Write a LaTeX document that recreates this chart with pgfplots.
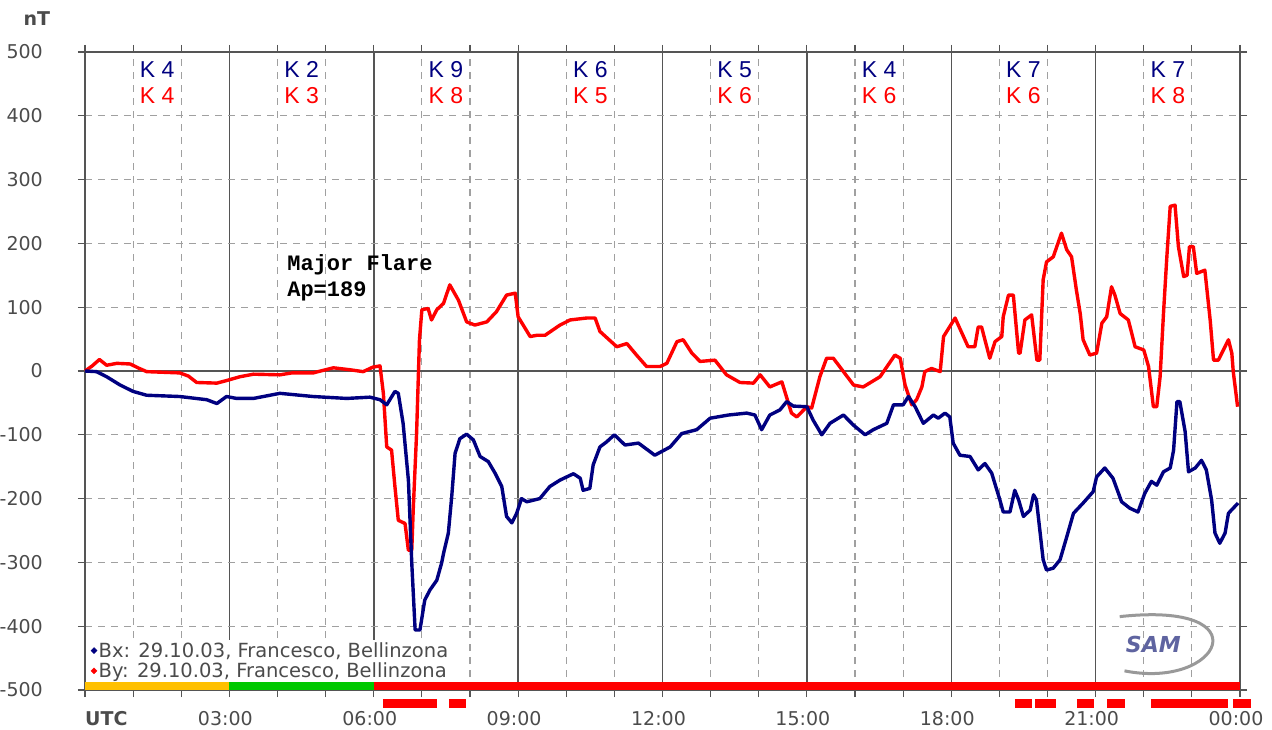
\documentclass[border=0pt]{standalone}
\usepackage{pgfplots}
\pgfplotsset{compat=1.18}
\usepackage{fontspec}
\setmainfont{DejaVu Sans}
\newfontfamily\monofont{Liberation Mono}
\newfontfamily\kfont{Liberation Sans}
\definecolor{navyc}{RGB}{0,0,128}
\definecolor{redc}{RGB}{255,0,0}
\definecolor{gridc}{RGB}{160,160,160}
\definecolor{axc}{RGB}{85,85,85}
\definecolor{txtc}{RGB}{75,75,75}
\definecolor{orangec}{RGB}{255,192,0}
\definecolor{greenc}{RGB}{0,200,0}
\definecolor{logoc}{RGB}{95,100,160}
\newcommand{\kpair}[3]{%
  \node[text=navyc, font=\kfont\fontsize{23}{26}\selectfont] at (axis cs:#1,472) {K\;#2};
  \node[text=redc, font=\kfont\fontsize{23}{26}\selectfont] at (axis cs:#1,431) {K\;#3};}
\begin{document}
\begin{tikzpicture}
\path[use as bounding box] (-85pt,-39pt) rectangle (1187pt,690pt);
\begin{axis}[
  at={(0pt,0pt)}, anchor=south west,
  scale only axis, width=1155pt, height=638pt,
  xmin=0, xmax=24, ymin=-500, ymax=500,
  clip=false,
  axis line style={axc, line width=1.5pt},
  xtick={0,3,...,24},
  xticklabels={,03:00,06:00,09:00,12:00,15:00,18:00,21:00,00:00},
  minor xtick={1,2,4,5,7,8,10,11,13,14,16,17,19,20,22,23},
  ytick={-500,-400,...,500},
  yticklabels={-500,-400,-300,-200,-100,0,100,200,300,400,500},
  grid=both,
  major x grid style={axc, line width=1.5pt},
  minor x grid style={gridc, line width=1.1pt, dash pattern=on 7pt off 6pt},
  major y grid style={gridc, line width=1.1pt, dash pattern=on 7pt off 6pt},
  tick style={axc, line width=1.2pt},
  tick align=outside, major tick length=7pt, minor tick length=7pt,
  ticklabel style={font=\fontsize{19}{22}\selectfont, text=txtc},
  xticklabel style={anchor=base, yshift=-28pt, xshift=-4pt},
  yticklabel style={anchor=east, inner sep=0pt, xshift=-35pt},
  legend style={at={(0.004,0.013)}, anchor=south west, draw=none, fill=white,
    font=\fontsize{19.5}{23}\selectfont, text=txtc, inner sep=1pt,
    row sep=1pt, nodes={inner sep=1.5pt}},
  legend cell align=left,
]
% zero line
\addplot[axc, line width=1.5pt, forget plot] coordinates {(0,0) (24,0)};
% status bar
\addplot[orangec, line width=8pt, forget plot] coordinates {(0,-493) (3,-493)};
\addplot[greenc, line width=8pt, forget plot] coordinates {(3,-493) (6,-493)};
\addplot[redc, line width=8pt, forget plot] coordinates {(6,-493) (24,-493)};
% red segments below axis
\addplot[redc, line width=9pt, forget plot] coordinates {(6.19,-521) (7.32,-521)};
\addplot[redc, line width=9pt, forget plot] coordinates {(7.56,-521) (7.91,-521)};
\addplot[redc, line width=9pt, forget plot] coordinates {(19.32,-521) (19.68,-521)};
\addplot[redc, line width=9pt, forget plot] coordinates {(19.74,-521) (20.18,-521)};
\addplot[redc, line width=9pt, forget plot] coordinates {(20.61,-521) (20.97,-521)};
\addplot[redc, line width=9pt, forget plot] coordinates {(21.24,-521) (21.60,-521)};
\addplot[redc, line width=9pt, forget plot] coordinates {(22.15,-521) (23.76,-521)};
\addplot[redc, line width=9pt, forget plot] coordinates {(23.86,-521) (24.22,-521)};
% By (red)
\addplot[redc, line width=3.4pt, line join=round, forget plot] coordinates {
(0,0) (0.15,8) (0.3,18) (0.45,9) (0.66,12) (0.94,11) (1.1,5) (1.28,-1) (1.97,-3)
(2.15,-8) (2.32,-18) (2.74,-19) (2.94,-15) (3.22,-9) (3.5,-5) (4.05,-6) (4.3,-3)
(4.74,-3) (5.16,5) (5.5,2) (5.78,-1) (5.98,6) (6.13,8) (6.2,-35) (6.27,-119)
(6.37,-124) (6.44,-181) (6.51,-234) (6.65,-239) (6.72,-281) (6.79,-281) (6.82,-218)
(6.89,-98) (6.95,49) (7.0,96) (7.13,98) (7.2,80) (7.31,96) (7.45,106) (7.58,135)
(7.76,111) (7.93,77) (8.1,72) (8.35,77) (8.55,93) (8.76,119) (8.94,122) (9.0,85)
(9.25,54) (9.39,56) (9.56,56) (9.87,72) (10.08,80) (10.42,83) (10.6,83) (10.7,62)
(11.05,38) (11.26,43) (11.46,25) (11.67,7) (11.95,7) (12.09,12) (12.3,46) (12.43,49)
(12.61,28) (12.78,15) (13.09,17) (13.33,-6) (13.61,-18) (13.89,-19) (14.03,-6)
(14.23,-25) (14.48,-17) (14.68,-66) (14.79,-72) (15.0,-56) (15.1,-58) (15.27,-9)
(15.41,20) (15.55,20) (15.97,-22) (16.17,-25) (16.52,-9) (16.83,25) (16.94,20)
(17.04,-22) (17.18,-53) (17.28,-45) (17.39,-25) (17.45,-1) (17.59,4) (17.77,-1)
(17.84,54) (18.08,83) (18.35,38) (18.49,38) (18.56,69) (18.63,69) (18.8,20)
(18.91,46) (19.05,54) (19.08,85) (19.19,119) (19.29,119) (19.4,28) (19.43,28)
(19.53,80) (19.67,88) (19.78,17) (19.84,17) (19.91,143) (19.98,171) (20.12,179)
(20.29,216) (20.4,190) (20.5,179) (20.6,127) (20.68,90) (20.74,49) (20.88,25)
(21.02,28) (21.13,75) (21.23,85) (21.33,132) (21.4,119) (21.51,90) (21.68,80)
(21.82,38) (22.0,33) (22.1,7) (22.2,-56) (22.27,-56) (22.34,-9) (22.41,90)
(22.48,179) (22.55,258) (22.65,260) (22.72,195) (22.83,148) (22.9,150) (22.95,195)
(23.03,195) (23.1,153) (23.27,158) (23.38,80) (23.45,17) (23.55,17) (23.76,49)
(23.83,28) (23.86,-1) (23.95,-56)};
% Bx (blue)
\addplot[navyc, line width=3.4pt, line join=round, forget plot] coordinates {
(0,0) (0.24,-1) (0.45,-9) (0.73,-22) (1.0,-32) (1.28,-38) (1.97,-40) (2.53,-45)
(2.74,-51) (2.94,-40) (3.15,-43) (3.5,-43) (4.05,-35) (4.74,-40) (5.44,-43)
(5.92,-41) (6.13,-45) (6.27,-53) (6.44,-32) (6.51,-35) (6.61,-82) (6.72,-171)
(6.79,-301) (6.86,-406) (6.96,-406) (7.06,-359) (7.17,-343) (7.31,-328) (7.41,-301)
(7.45,-286) (7.55,-254) (7.62,-197) (7.69,-129) (7.79,-106) (7.93,-99) (8.07,-108)
(8.21,-134) (8.38,-142) (8.52,-160) (8.66,-181) (8.76,-228) (8.87,-238) (8.97,-223)
(9.07,-200) (9.18,-205) (9.45,-200) (9.66,-181) (9.87,-171) (10.15,-161) (10.29,-168)
(10.35,-187) (10.49,-184) (10.56,-147) (10.7,-119) (10.84,-111) (11.0,-100)
(11.22,-116) (11.5,-113) (11.84,-132) (12.16,-119) (12.4,-98) (12.71,-92) (12.99,-74)
(13.37,-69) (13.75,-66) (13.92,-69) (14.06,-92) (14.23,-69) (14.44,-61) (14.58,-48)
(14.72,-55) (15.0,-56) (15.13,-77) (15.31,-100) (15.48,-82) (15.76,-69) (15.97,-85)
(16.21,-100) (16.38,-92) (16.66,-82) (16.8,-53) (17.0,-53) (17.11,-40) (17.25,-56)
(17.42,-82) (17.63,-69) (17.73,-74) (17.87,-66) (17.97,-72) (18.04,-113) (18.18,-132)
(18.39,-134) (18.56,-155) (18.7,-145) (18.84,-160) (19.01,-202) (19.08,-221)
(19.22,-221) (19.32,-187) (19.4,-202) (19.5,-228) (19.64,-218) (19.71,-194)
(19.77,-202) (19.84,-249) (19.91,-296) (19.98,-312) (20.12,-309) (20.26,-296)
(20.4,-260) (20.54,-223) (20.74,-207) (20.95,-189) (21.02,-166) (21.19,-152)
(21.36,-168) (21.54,-205) (21.71,-215) (21.88,-221) (22.02,-192) (22.16,-173)
(22.27,-179) (22.41,-158) (22.55,-152) (22.62,-124) (22.69,-48) (22.75,-48)
(22.86,-95) (22.93,-158) (23.07,-152) (23.2,-140) (23.3,-155) (23.41,-202)
(23.48,-254) (23.58,-270) (23.69,-254) (23.76,-223) (23.96,-207)};
% legend
\addlegendimage{legend image code/.code={\fill[navyc] (2pt,0pt) -- (5pt,3pt) -- (8pt,0pt) -- (5pt,-3pt) -- cycle;}}
\addlegendentry{Bx: 29.10.03, Francesco, Bellinzona}
\addlegendimage{legend image code/.code={\fill[redc] (2pt,0pt) -- (5pt,3pt) -- (8pt,0pt) -- (5pt,-3pt) -- cycle;}}
\addlegendentry{By: 29.10.03, Francesco, Bellinzona}
% K indices
\kpair{1.5}{4}{4}
\kpair{4.5}{2}{3}
\kpair{7.5}{9}{8}
\kpair{10.5}{6}{5}
\kpair{13.5}{5}{6}
\kpair{16.5}{4}{6}
\kpair{19.5}{7}{6}
\kpair{22.5}{7}{8}
% annotation
\node[anchor=base west, font=\monofont\bfseries\fontsize{22}{24}\selectfont, inner sep=0pt] at (axis cs:4.2,157) {Major Flare};
\node[anchor=base west, font=\monofont\bfseries\fontsize{22}{24}\selectfont, inner sep=0pt] at (axis cs:4.2,116) {Ap=189};
% unit and UTC
\node[font=\bfseries\fontsize{19}{22}\selectfont, text=txtc] at (axis cs:-1.0,552) {nT};
\node[anchor=base west, inner sep=0pt, font=\bfseries\fontsize{19}{22}\selectfont, text=txtc] at (axis cs:0,-555) {UTC};
% logo
\draw[gray!80, line width=3pt] (axis cs:21.5,-385) .. controls (axis cs:24.5,-360) and (axis cs:23.6,-500) .. (axis cs:21.6,-470);
\node[font=\bfseries\itshape\fontsize{22}{24}\selectfont, text=logoc] at (axis cs:22.2,-428) {SAM};
\end{axis}
\end{tikzpicture}
\end{document}
